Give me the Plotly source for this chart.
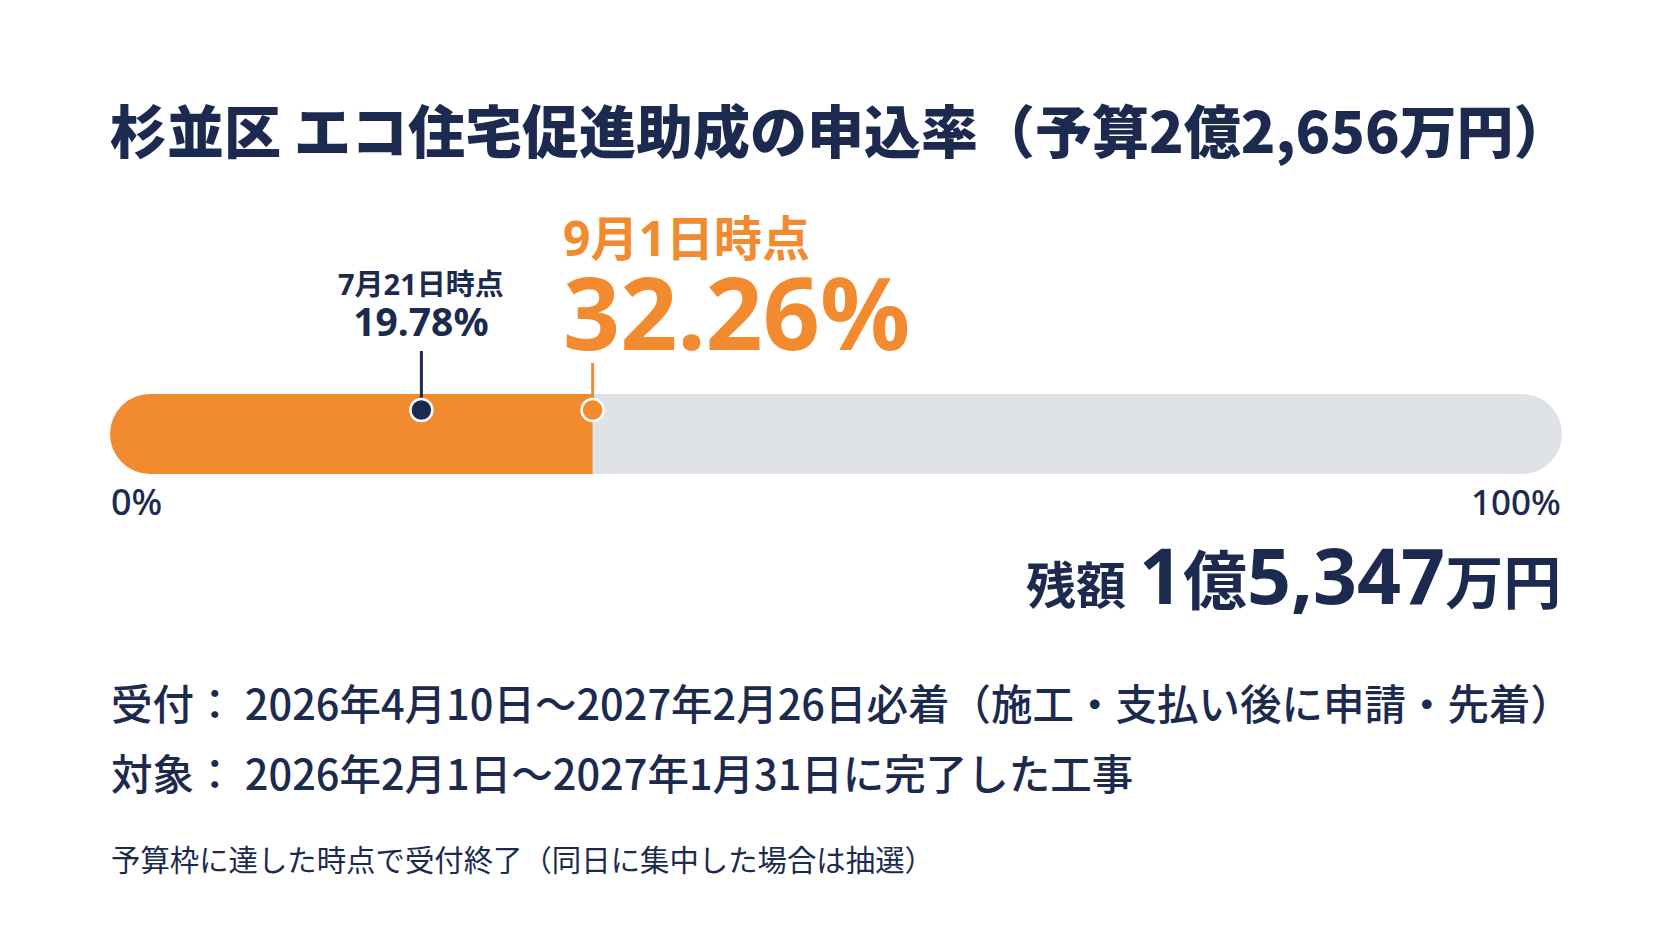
import plotly.graph_objects as go

# ---- data ----
title_text = "杉並区 エコ住宅促進助成の申込率（予算2億2,656万円）"
axis_min, axis_max = 0, 100
tick_labels = ["0%", "100%"]
milestone_dates = ["7月21日時点", "9月1日時点"]
milestone_rates = [19.78, 32.26]
remaining_label = "残額"
remaining_oku = "1"
remaining_man = "5,347"
info_lines = [
    "受付： 2026年4月10日～2027年2月26日必着（施工・支払い後に申請・先着）",
    "対象： 2026年2月1日～2027年1月31日に完了した工事",
]
note_text = "予算枠に達した時点で受付終了（同日に集中した場合は抽選）"

# ---- layout constants (target pixel positions; OFF = page body margin) ----
W, H = 1672, 941
OFF = 8
X0_PX, X100_PX = 150 - OFF, 1522 - OFF
BAR_CY, BAR_H = 434 - OFF, 80
NAVY = "#1b2a4e"
ORANGE = "#f28a30"
GRAY = "#dfe2e6"
JP = "Noto Sans CJK JP"
MIX = "Noto Sans, Noto Sans CJK JP"

ppu = (X100_PX - X0_PX) / (axis_max - axis_min)
xr = [axis_min - X0_PX / ppu, axis_min + (W - X0_PX) / ppu]
yr = [(BAR_CY - H) / BAR_H, BAR_CY / BAR_H]


def py(p):
    return (BAR_CY + OFF - p) / BAR_H


current = milestone_rates[-1]
prev = milestone_rates[0]

fig = go.Figure()
fig.add_trace(go.Bar(x=[axis_max - axis_min], base=[axis_min], y=[0], width=1,
                     orientation="h", marker=dict(color=GRAY, line=dict(width=0)),
                     hoverinfo="skip"))
fig.add_trace(go.Bar(x=[current - axis_min], base=[axis_min], y=[0], width=1,
                     orientation="h", marker=dict(color=ORANGE, line=dict(width=0)),
                     hoverinfo="skip"))
fig.add_trace(go.Scatter(x=[axis_min, axis_max], y=[0, 0], mode="markers",
                         marker=dict(size=BAR_H, color=[ORANGE, GRAY], line=dict(width=0)),
                         cliponaxis=False, hoverinfo="skip"))
pin_colors = [NAVY, ORANGE]
stem_tops = [py(351), py(363)]
for rate, col, top in zip(milestone_rates, pin_colors, stem_tops):
    fig.add_trace(go.Scatter(x=[rate, rate], y=[py(410), top], mode="lines",
                             line=dict(color=col, width=3), hoverinfo="skip"))
    fig.add_trace(go.Scatter(x=[rate], y=[py(410)], mode="markers",
                             marker=dict(size=22, color=col, line=dict(color="white", width=2.5)),
                             cliponaxis=False, hoverinfo="skip"))

ann = []


def A(text, x, y, size, color=NAVY, xa="left", ya="middle", family=JP, weight=400,
      xref="paper", align="left"):
    ann.append(dict(text=text, x=x, y=y, xref=xref, yref="paper", xanchor=xa, yanchor=ya,
                    showarrow=False, align=align,
                    font=dict(family=family, size=size, color=color, weight=weight)))


def fx(p):
    return (p - OFF) / W


def fy(p):
    return 1 - (p - OFF) / H


A(title_text, fx(108), fy(128), 57, weight=900)
small = (f"<span style='font-size:29px'>{milestone_dates[0]}</span><br>"
         f"<span style='font-size:39px'>{prev:.2f}%</span>")
A(small, prev, fy(349), 31.5, weight=700, xa="center", xref="x", family=MIX, ya="bottom",
  align="center")
big = (f"<span style='font-size:48px'>{milestone_dates[1]}</span><br>"
       f"<span style='font-size:100px'>{current:.2f}%</span>")
A(big, fx(561), fy(381), 72, color=ORANGE, weight=700, family=MIX, ya="bottom")
A(tick_labels[0], fx(109), fy(501), 36, family=MIX, weight=500)
A(tick_labels[1], fx(1563), fy(501), 35, family=MIX, weight=500, xa="right")
rem = (f"<span style='font-size:50px'>{remaining_label} </span>"
       f"<span style='font-size:77px'>{remaining_oku}</span>"
       f"<span style='font-size:64px'>億</span>"
       f"<span style='font-size:77px'>{remaining_man}</span>"
       f"<span style='font-size:58px'>万円</span>")
A(rem, fx(1563), fy(574), 77, weight=700, xa="right", family=MIX)
A(info_lines[0], fx(109), fy(702), 41.5, weight=500)
A(info_lines[1], fx(109), fy(772), 41.5, weight=500)
A(note_text, fx(109), fy(858), 29.4, weight=400)

fig.update_layout(
    width=W, height=H, margin=dict(l=0, r=0, t=0, b=0),
    paper_bgcolor="white", plot_bgcolor="white",
    barmode="overlay", showlegend=False, annotations=ann,
    xaxis=dict(range=xr, domain=[0, 1], visible=False, fixedrange=True),
    yaxis=dict(range=yr, domain=[0, 1], visible=False, fixedrange=True),
)
fig.write_html("out.html")
